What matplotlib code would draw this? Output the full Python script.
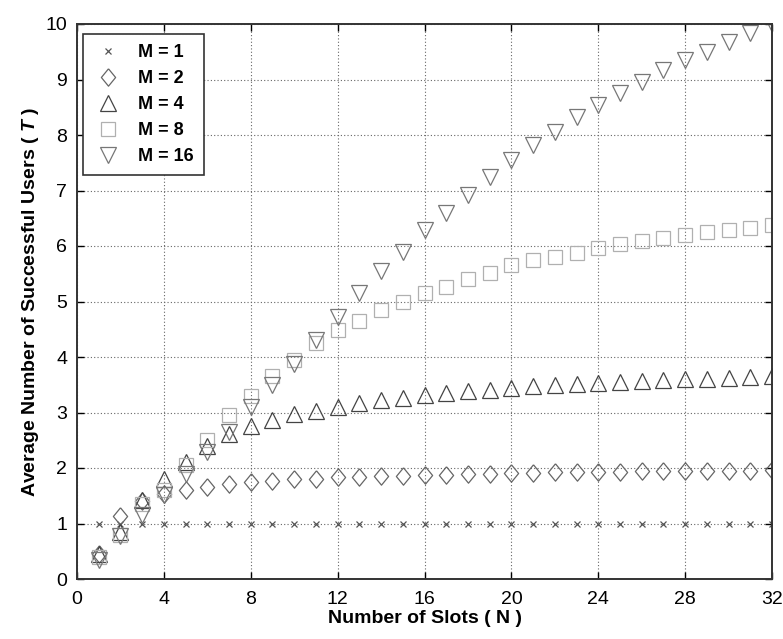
import numpy as np
import matplotlib
matplotlib.use("Agg")
import matplotlib.pyplot as plt

plt.rcParams['font.family'] = ['Liberation Sans', 'DejaVu Sans']
plt.rcParams['mathtext.fontset'] = 'custom'
plt.rcParams['mathtext.it'] = 'Liberation Sans:italic:bold'

# number of slots
slots = list(range(1, 33))

# average number of successful users for each M
m1 = [1.0] * 32
m2 = [0.45, 1.14, 1.40, 1.53, 1.60, 1.66, 1.71, 1.74, 1.77, 1.80, 1.81, 1.83,
      1.84, 1.85, 1.86, 1.87, 1.88, 1.89, 1.90, 1.91, 1.91, 1.92, 1.92, 1.93,
      1.93, 1.94, 1.94, 1.94, 1.95, 1.95, 1.95, 1.96]
m4 = [0.45, 0.85, 1.42, 1.80, 2.10, 2.40, 2.62, 2.75, 2.87, 2.97, 3.03, 3.10,
      3.17, 3.22, 3.27, 3.31, 3.35, 3.38, 3.41, 3.44, 3.47, 3.49, 3.51, 3.53,
      3.55, 3.57, 3.58, 3.60, 3.61, 3.62, 3.64, 3.65]
m8 = [0.40, 0.80, 1.35, 1.60, 2.05, 2.50, 2.95, 3.30, 3.65, 3.95, 4.25, 4.48,
      4.65, 4.85, 5.00, 5.15, 5.27, 5.40, 5.52, 5.65, 5.74, 5.80, 5.88, 5.96,
      6.03, 6.09, 6.15, 6.20, 6.25, 6.29, 6.33, 6.38]
m16 = [0.35, 0.78, 1.15, 1.52, 1.90, 2.28, 2.65, 3.10, 3.50, 3.88, 4.30, 4.72,
       5.15, 5.55, 5.90, 6.28, 6.60, 6.92, 7.24, 7.55, 7.82, 8.05, 8.32, 8.54,
       8.75, 8.95, 9.17, 9.35, 9.50, 9.68, 9.84, 10.0]

diamond = [(0, 1), (0.82, 0), (0, -1), (-0.82, 0), (0, 1)]

fig = plt.figure(figsize=(7.83, 6.39), dpi=100)
ax = fig.add_axes([77 / 783, 1 - 579 / 639, 695 / 783, 555 / 639])

series = [
    (m1, 'x', 4.5, '#555555', 'M = 1'),
    (m2, diamond, 12.5, '#666666', 'M = 2'),
    (m4, '^', 11, '#444444', 'M = 4'),
    (m8, 's', 9.5, '#b0b0b0', 'M = 8'),
    (m16, 'v', 11.5, '#777777', 'M = 16'),
]
for vals, mk, ms, col, lab in series:
    ax.plot(slots, vals, linestyle='none', marker=mk, markersize=ms,
            markerfacecolor='none', markeredgecolor=col, markeredgewidth=0.9,
            label=lab)

ax.set_xlim(0, 32)
ax.set_ylim(0, 10)
ax.set_xticks(np.arange(0, 33, 4))
ax.set_yticks(np.arange(0, 11, 1))
ax.grid(True, color='#666666', linestyle=(0, (1, 2)), linewidth=0.8)
ax.tick_params(direction='in', top=True, right=True, length=5, width=1,
               labelsize=14)
ax.tick_params(axis='x', pad=9)
ax.tick_params(axis='y', pad=7)
for s in ax.spines.values():
    s.set_linewidth(1.4)
    s.set_color('#333333')

ax.set_xlabel('Number of Slots ( N )', fontsize=14, fontweight='bold', labelpad=1)
ax.set_ylabel('Average Number of Successful Users ( $T$ )', fontsize=14,
              fontweight='bold', labelpad=3)

leg = ax.legend(loc='upper left', bbox_to_anchor=(0.009, 0.982), borderaxespad=0,
                prop={'weight': 'bold', 'size': 13}, frameon=True, fancybox=False,
                edgecolor='#333333', framealpha=1, handletextpad=0.9,
                borderpad=0.55, labelspacing=0.5, handlelength=1.6)
leg.get_frame().set_linewidth(1.2)

fig.savefig('out.png', dpi=100)
